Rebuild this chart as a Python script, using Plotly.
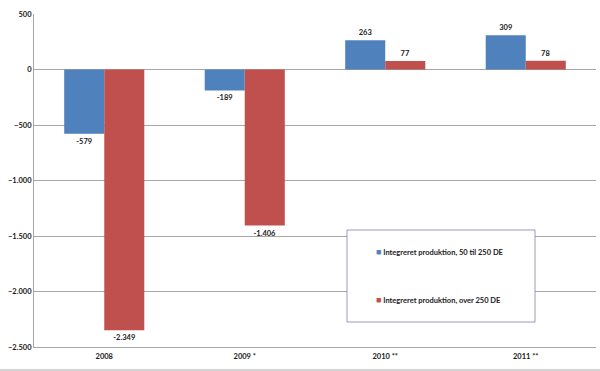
import plotly.graph_objects as go

categories = ["2008", "2009 *", "2010 **", "2011 **"]
series_names = ["Integreret produktion, 50 til 250 DE", "Integreret produktion, over 250 DE"]
values_50_250 = [-579, -189, 263, 309]
values_over_250 = [-2349, -1406, 77, 78]
y_ticks = [500, 0, -500, -1000, -1500, -2000, -2500]

colors = ["#4F81BD", "#C0504D"]
font_family = "Lato"
fs = 7.5
txt_color = "#1a1a1a"

fig = go.Figure()
for name, vals, col in zip(series_names, [values_50_250, values_over_250], colors):
    fig.add_trace(go.Bar(
        x=categories, y=vals, name=name, marker_color=col, marker_line_width=0,
        showlegend=False,
        texttemplate="%{y:,}", textposition="outside", cliponaxis=False,
        textfont=dict(family=font_family, size=fs, color=txt_color, weight="bold"),
    ))
# legend entries: small coloured square glyph placed right next to the text
for name, col, grp in zip(series_names, colors, ["a", "b"]):
    fig.add_trace(go.Scatter(
        x=[None], y=[None], mode="markers", legendgroup=grp,
        name=f"<span style='color:{col};font-size:9px'>■</span> {name}",
        marker=dict(symbol="square", size=1, color="rgba(0,0,0,0)",
                    line=dict(width=0, color="rgba(0,0,0,0)")),
    ))

L, R, T, B = 34, 4, 14, 24
PW, PH = 600 - L - R, 371 - T - B

fig.update_layout(
    width=600, height=371,
    margin=dict(l=L, r=R, t=T, b=B, autoexpand=False),
    paper_bgcolor="white", plot_bgcolor="white",
    separators=",.",
    barmode="group", bargap=0.43, bargroupgap=0,
    font=dict(family=font_family, size=fs, color=txt_color),
    showlegend=True,
    legend=dict(
        x=(336 - L) / PW, y=(371 - B - 238) / PH, xanchor="left", yanchor="top",
        bgcolor="rgba(0,0,0,0)", borderwidth=0,
        tracegroupgap=29, itemwidth=30,
        font=dict(family=font_family, size=fs, color=txt_color, weight="bold"),
    ),
    uniformtext=dict(minsize=7, mode="show"),
)
fig.add_shape(type="rect", xref="paper", yref="paper",
              x0=(347 - L) / PW, x1=(535 - L) / PW,
              y0=(371 - B - 322) / PH, y1=(371 - B - 230) / PH,
              line=dict(color="#9b99bd", width=1), fillcolor="white", layer="above")

fig.update_yaxes(
    range=[-2500, 500], tickvals=y_ticks, separatethousands=True, automargin=False,
    showgrid=True, gridcolor="#a6a6a6", gridwidth=1,
    showline=True, linecolor="#a6a6a6", linewidth=1,
    zeroline=False, ticks="", ticklen=0,
    tickfont=dict(family=font_family, size=fs, color=txt_color, weight="bold"),
)
fig.update_xaxes(
    showline=True, linecolor="#a6a6a6", linewidth=1, showgrid=False, automargin=False,
    ticks="", ticklabelstandoff=2,
    tickfont=dict(family=font_family, size=fs, color=txt_color, weight="bold"),
)
fig.add_shape(type="line", xref="paper", yref="paper", x0=-L / PW, x1=1 + R / PW,
              y0=-(B - 1) / PH, y1=-(B - 1) / PH,
              line=dict(color="#a6a6a6", width=1))

fig.write_html("out.html", config={"displayModeBar": False},
               post_script="document.body.style.margin='0';")
